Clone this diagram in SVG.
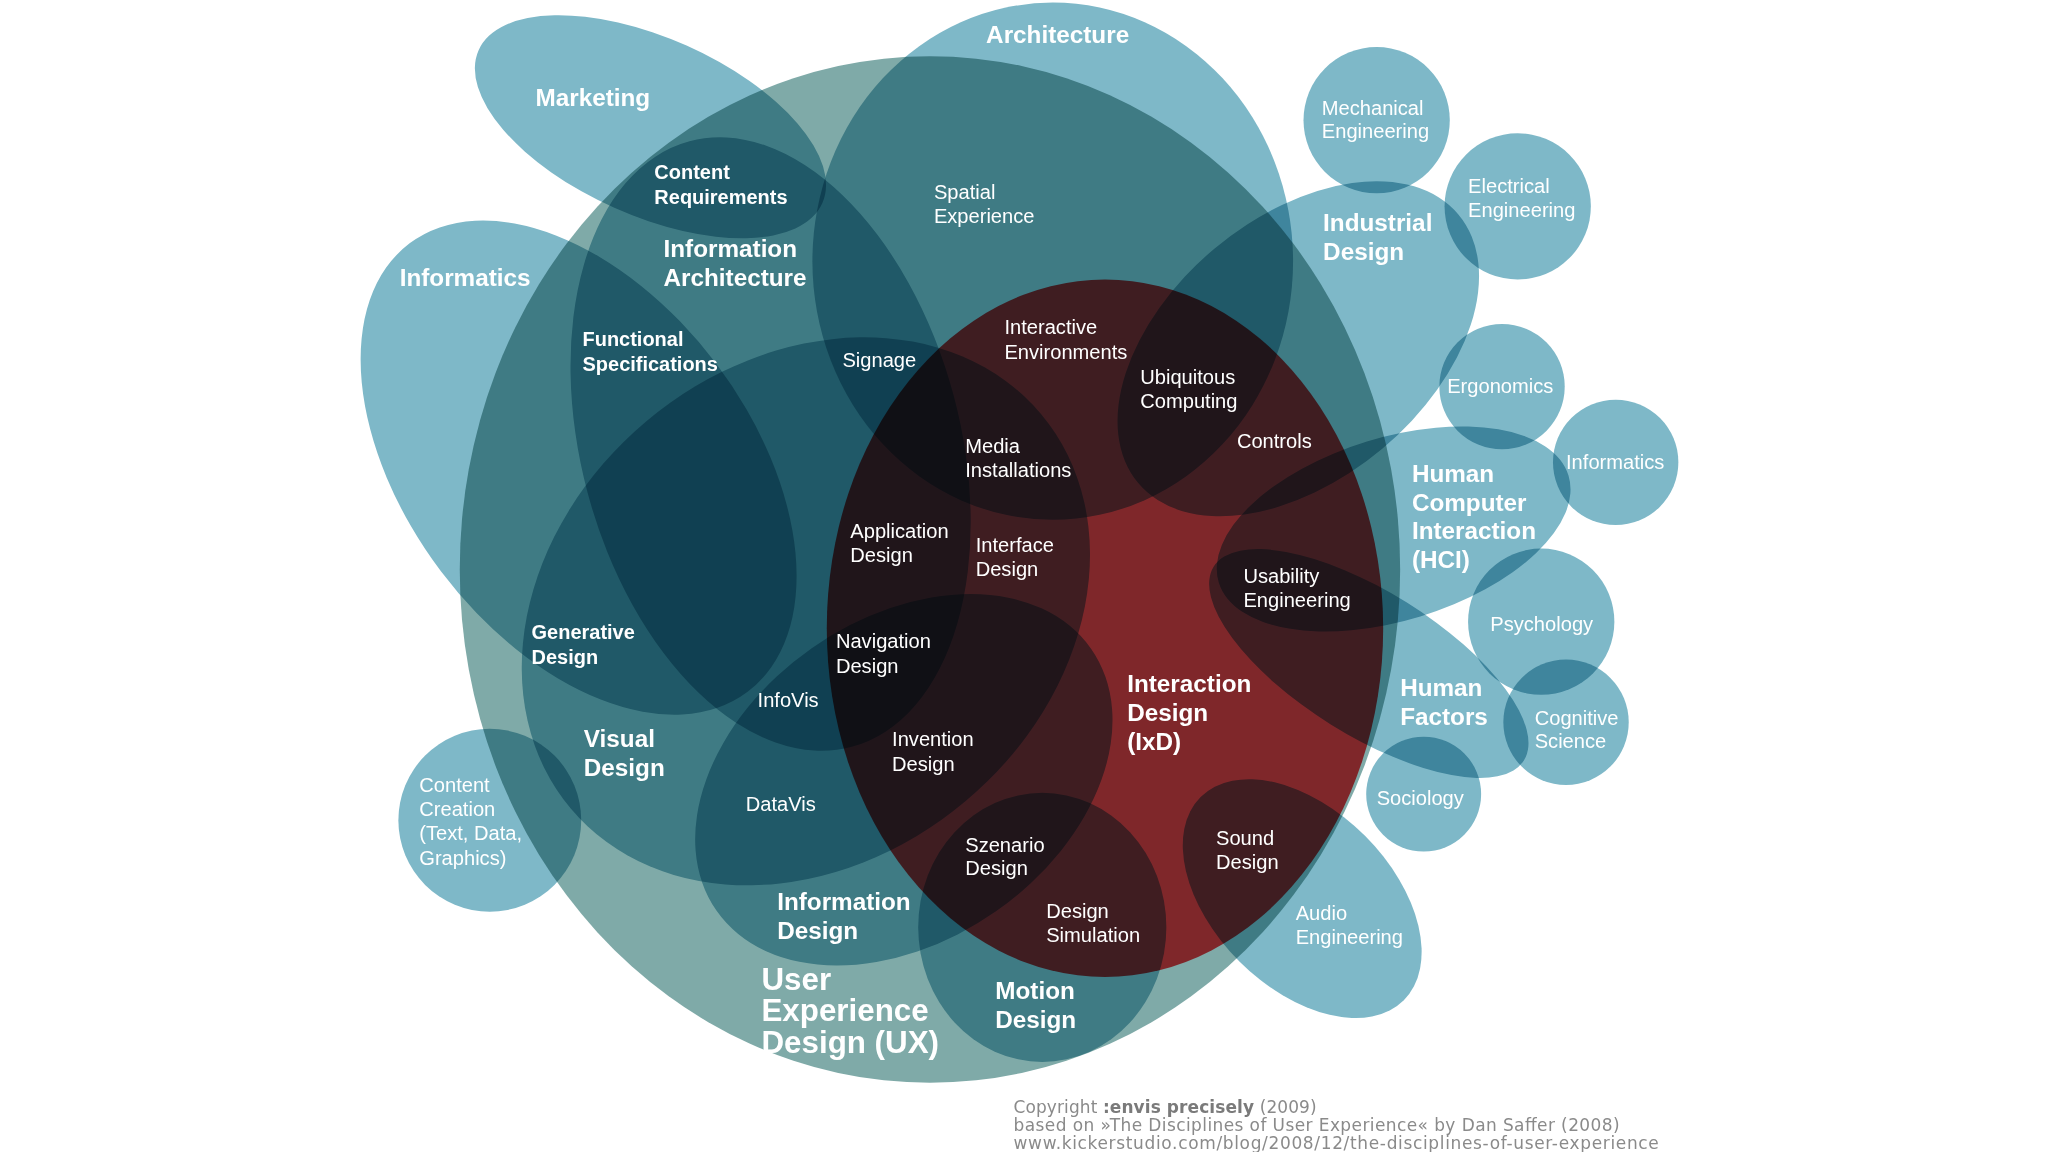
<svg xmlns="http://www.w3.org/2000/svg" width="2048" height="1152" viewBox="0 0 2048 1152">
<defs>
<style>
.t{fill:#7eb8c8;mix-blend-mode:multiply}
.ux{fill:#7faaa8;mix-blend-mode:multiply}
.ixd{fill:#ff3a40;mix-blend-mode:multiply}
text{font-family:"Liberation Sans",Arial,sans-serif;fill:#ffffff}
.b{font-weight:bold;font-size:18.6px}
.bx{font-weight:bold;font-size:24px}
.bs{font-weight:bold;font-size:15.3px}
.r{font-size:15.4px}
.c{font-family:"DejaVu Sans","Liberation Sans",sans-serif;fill:#8a8a8a;font-size:13px}
.cb{font-weight:bold;fill:#7a7a7a}
</style>
<clipPath id="uxclip"><ellipse cx="712" cy="436" rx="360" ry="393"/></clipPath>
</defs>
<rect width="2048" height="1152" fill="#ffffff"/>
<g transform="scale(1.30612)">
<g id="areas">
<ellipse id="ux" class="ux" cx="712" cy="436" rx="360" ry="393"/>
<ellipse id="ixd" class="ixd" cx="846" cy="481" rx="213" ry="267" clip-path="url(#uxclip)"/>
<ellipse id="marketing" class="t" cx="498" cy="97" rx="144" ry="68" transform="rotate(24 498 97)"/>
<ellipse id="architecture" class="t" cx="806" cy="200" rx="184" ry="198"/>
<ellipse id="informatics" class="t" cx="443" cy="358" rx="215" ry="132" transform="rotate(53 443 358)"/>
<ellipse id="information-architecture" class="t" cx="590" cy="340" rx="240" ry="145" transform="rotate(75 590 340)"/>
<ellipse id="visual-design" class="t" cx="617" cy="468" rx="235" ry="190" transform="rotate(-40 617 468)"/>
<ellipse id="information-design" class="t" cx="692" cy="597" rx="175" ry="123" transform="rotate(-35 692 597)"/>
<ellipse id="motion-design" class="t" cx="798" cy="710" rx="95" ry="103"/>
<ellipse id="industrial-design" class="t" cx="994" cy="267" rx="160" ry="100" transform="rotate(-40 994 267)"/>
<ellipse id="hci" class="t" cx="1067" cy="405" rx="140" ry="70" transform="rotate(-17 1067 405)"/>
<ellipse id="human-factors" class="t" cx="1048" cy="508" rx="140" ry="55" transform="rotate(32 1048 508)"/>
<ellipse id="audio-engineering" class="t" cx="997" cy="688" rx="110" ry="68" transform="rotate(45 997 688)"/>
<ellipse id="content-creation" class="t" cx="375" cy="628" rx="70" ry="70"/>
<circle id="mechanical-engineering" class="t" cx="1054" cy="92" r="56"/>
<circle id="electrical-engineering" class="t" cx="1162" cy="158" r="56"/>
<circle id="ergonomics" class="t" cx="1150" cy="296" r="48"/>
<circle id="informatics-hci" class="t" cx="1237" cy="354" r="48"/>
<circle id="psychology" class="t" cx="1180" cy="476" r="56"/>
<circle id="cognitive-science" class="t" cx="1199" cy="553" r="48"/>
<circle id="sociology" class="t" cx="1090" cy="608" r="44"/>
</g>
<g id="labels">
<g id="l-marketing"><text class="b" x="410" y="81">Marketing</text></g>
<g id="l-architecture"><text class="b" x="755" y="33">Architecture</text></g>
<g id="l-informatics"><text class="b" x="306" y="219">Informatics</text></g>
<g id="l-ia"><text class="b" x="508" y="197">Information</text><text class="b" x="508" y="219">Architecture</text></g>
<g id="l-industrial"><text class="b" x="1013" y="177">Industrial</text><text class="b" x="1013" y="199">Design</text></g>
<g id="l-hci"><text class="b" x="1081" y="369">Human</text><text class="b" x="1081" y="391">Computer</text><text class="b" x="1081" y="413">Interaction</text><text class="b" x="1081" y="435">(HCI)</text></g>
<g id="l-hf"><text class="b" x="1072" y="533">Human</text><text class="b" x="1072" y="555">Factors</text></g>
<g id="l-visual"><text class="b" x="447" y="572">Visual</text><text class="b" x="447" y="594">Design</text></g>
<g id="l-infodesign"><text class="b" x="595" y="697">Information</text><text class="b" x="595" y="719">Design</text></g>
<g id="l-motion"><text class="b" x="762" y="765">Motion</text><text class="b" x="762" y="787">Design</text></g>
<g id="l-ixd"><text class="b" x="863" y="530">Interaction</text><text class="b" x="863" y="552">Design</text><text class="b" x="863" y="574">(IxD)</text></g>
<g id="l-ux"><text class="bx" x="583" y="758">User</text><text class="bx" x="583" y="782">Experience</text><text class="bx" x="583" y="806">Design (UX)</text></g>
<g id="l-content-req"><text class="bs" x="501" y="137">Content</text><text class="bs" x="501" y="156">Requirements</text></g>
<g id="l-func"><text class="bs" x="446" y="265">Functional</text><text class="bs" x="446" y="284">Specifications</text></g>
<g id="l-gen"><text class="bs" x="407" y="489">Generative</text><text class="bs" x="407" y="508">Design</text></g>
<g id="l-spatial"><text class="r" x="715" y="152">Spatial</text><text class="r" x="715" y="171">Experience</text></g>
<g id="l-signage"><text class="r" x="645" y="281">Signage</text></g>
<g id="l-interactive"><text class="r" x="769" y="256">Interactive</text><text class="r" x="769" y="275">Environments</text></g>
<g id="l-ubi"><text class="r" x="873" y="294">Ubiquitous</text><text class="r" x="873" y="312">Computing</text></g>
<g id="l-controls"><text class="r" x="947" y="343">Controls</text></g>
<g id="l-media"><text class="r" x="739" y="347">Media</text><text class="r" x="739" y="365">Installations</text></g>
<g id="l-app"><text class="r" x="651" y="412">Application</text><text class="r" x="651" y="430">Design</text></g>
<g id="l-interface"><text class="r" x="747" y="423">Interface</text><text class="r" x="747" y="441">Design</text></g>
<g id="l-usability"><text class="r" x="952" y="446">Usability</text><text class="r" x="952" y="465">Engineering</text></g>
<g id="l-nav"><text class="r" x="640" y="496">Navigation</text><text class="r" x="640" y="515">Design</text></g>
<g id="l-infovis"><text class="r" x="580" y="541">InfoVis</text></g>
<g id="l-invention"><text class="r" x="683" y="571">Invention</text><text class="r" x="683" y="590">Design</text></g>
<g id="l-datavis"><text class="r" x="571" y="621">DataVis</text></g>
<g id="l-szenario"><text class="r" x="739" y="652">Szenario</text><text class="r" x="739" y="670">Design</text></g>
<g id="l-simulation"><text class="r" x="801" y="703">Design</text><text class="r" x="801" y="721">Simulation</text></g>
<g id="l-sound"><text class="r" x="931" y="647">Sound</text><text class="r" x="931" y="665">Design</text></g>
<g id="l-audio"><text class="r" x="992" y="704">Audio</text><text class="r" x="992" y="723">Engineering</text></g>
<g id="l-content-creation"><text class="r" x="321" y="606">Content</text><text class="r" x="321" y="625">Creation</text><text class="r" x="321" y="643">(Text, Data,</text><text class="r" x="321" y="662">Graphics)</text></g>
<g id="l-mech"><text class="r" x="1012" y="88">Mechanical</text><text class="r" x="1012" y="106">Engineering</text></g>
<g id="l-elec"><text class="r" x="1124" y="148">Electrical</text><text class="r" x="1124" y="166">Engineering</text></g>
<g id="l-ergo"><text class="r" x="1108" y="301">Ergonomics</text></g>
<g id="l-informatics2"><text class="r" x="1199" y="359">Informatics</text></g>
<g id="l-psych"><text class="r" x="1141" y="483">Psychology</text></g>
<g id="l-cog"><text class="r" x="1175" y="555">Cognitive</text><text class="r" x="1175" y="573">Science</text></g>
<g id="l-soc"><text class="r" x="1054" y="616">Sociology</text></g>
<g id="l-copyright">
<text class="c" x="776" y="852" textLength="232">Copyright <tspan class="cb">:envis precisely</tspan> (2009)</text>
<text class="c" x="776" y="866" textLength="464">based on »The Disciplines of User Experience« by Dan Saffer (2008)</text>
<text class="c" x="776" y="880" textLength="494">www.kickerstudio.com/blog/2008/12/the-disciplines-of-user-experience</text>
</g>
</g>
</g>
</svg>
